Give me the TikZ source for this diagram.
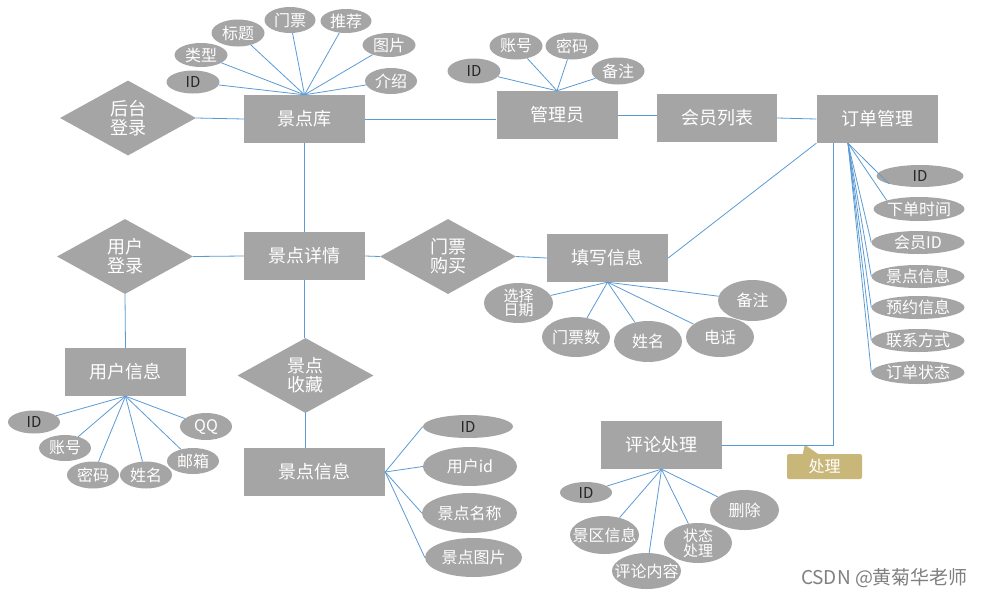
\documentclass[tikz,border=0pt]{standalone}
\usepackage{fontspec}
\setmainfont{Noto Sans CJK SC}
\usetikzlibrary{shapes.geometric}
\definecolor{boxgray}{HTML}{A5A5A5}
\definecolor{lineblue}{HTML}{5B9BD5}
\definecolor{tagtan}{HTML}{C9B77A}
\begin{document}
\begin{tikzpicture}[x=1pt,y=-1pt,
 ent/.style={rectangle, fill=boxgray, text=white, minimum width=121pt, minimum height=48pt, inner sep=0pt, font=\fontsize{18}{20}\selectfont},
 rel/.style={diamond, fill=boxgray, text=white, minimum width=136pt, minimum height=75pt, inner sep=0pt, align=center, font=\fontsize{18}{19}\selectfont},
 ell/.style 2 args={ellipse, fill=boxgray, inner sep=0pt, minimum width=#1pt, minimum height=#2pt},
 wt/.style={text=white, inner sep=0pt, font=\fontsize{16}{16}\selectfont},
 dk/.style={text=black!85, inner sep=0pt, font=\fontsize{15}{15}\selectfont},
 wt2/.style={text=white, inner sep=0pt, align=center, font=\fontsize{15}{12.5}\selectfont},
 conn/.style={draw=lineblue, line width=0.8pt}]
\useasboundingbox (0,0) rectangle (986,598);
\fill[white] (0,0) rectangle (986,598);

% ---------- entities and relations ----------
\node[ent] (jdk) at (304.5,119) {景点库};
\node[rel] (htdl) at (128,118) {后台\\登录};
\node[ent] (gly) at (557,115) {管理员};
\node[ent, minimum width=120pt] (hylb) at (717,118) {会员列表};
\node[ent] (om) at (877,119) {订单管理};
\node[rel] (yhdl) at (125,256.5) {用户\\登录};
\node[ent] (jdxq) at (304.5,256) {景点详情};
\node[rel] (mpgm) at (448,256.5) {门票\\购买};
\node[ent] (txx) at (607.5,258) {填写信息};
\node[ent] (yhxx) at (125.5,372) {用户信息};
\node[rel] (jdsc) at (305.5,375.5) {景点\\收藏};
\node[ent, minimum width=141pt] (jdxx) at (314.5,472) {景点信息};
\node[ent] (plcl) at (661.5,445) {评论处理};

% ---------- attributes: 景点库 ----------
\node[ell={53}{23}, label={[dk]center:ID}] (jid) at (193,82) {};
\node[ell={53}{24}, label={[wt]center:类型}] (jlx) at (201,55) {};
\node[ell={53}{27}, label={[wt]center:标题}] (jbt) at (238,33) {};
\node[ell={51}{26}, label={[wt]center:门票}] (jmp) at (290,20) {};
\node[ell={51}{24}, label={[wt]center:推荐}] (jtj) at (346,21) {};
\node[ell={53}{24}, label={[wt]center:图片}] (jtp) at (389,45) {};
\node[ell={52}{26}, label={[wt]center:介绍}] (jjs) at (391,81) {};

% ---------- attributes: 管理员 ----------
\node[ell={53}{25}, label={[dk]center:ID}] (gid) at (474,71) {};
\node[ell={53}{27}, label={[wt]center:账号}] (gzh) at (516,46) {};
\node[ell={53}{27}, label={[wt]center:密码}] (gmm) at (572,46) {};
\node[ell={53}{27}, label={[wt]center:备注}] (gbz) at (618,71) {};

% ---------- attributes: 订单管理 ----------
\node[ell={87}{22}, label={[dk]center:ID}] (oid) at (920,176) {};
\node[ell={91}{24}, label={[wt]center:下单时间}] (oxd) at (919,209) {};
\node[ell={93}{23}, label={[wt]center:会员ID}] (ohy) at (918,242.5) {};
\node[ell={93}{23}, label={[wt]center:景点信息}] (ojd) at (918,276.5) {};
\node[ell={93}{23}, label={[wt]center:预约信息}] (oyy) at (918,307.5) {};
\node[ell={93}{23}, label={[wt]center:联系方式}] (olx) at (918,340.5) {};
\node[ell={93}{23}, label={[wt]center:订单状态}] (ozt) at (918,372.5) {};

% ---------- attributes: 填写信息 ----------
\node[ell={69}{40}, label={[wt2]center:{选择\\日期}}] (tdate) at (518.5,303) {};
\node[ell={68}{40}, label={[wt]center:门票数}] (tnum) at (576,337) {};
\node[ell={68}{41}, label={[wt]center:姓名}] (tname) at (648,341.5) {};
\node[ell={68}{40}, label={[wt]center:电话}] (ttel) at (720,337) {};
\node[ell={69}{41}, label={[wt]center:备注}] (tbz) at (752.5,300.5) {};

% ---------- attributes: 用户信息 ----------
\node[ell={52}{23}, label={[dk]center:ID}] (uid) at (34,422) {};
\node[ell={52}{26}, label={[wt]center:账号}] (uzh) at (65,448) {};
\node[ell={52}{27}, label={[wt]center:密码}] (umm) at (93,475) {};
\node[ell={52}{27}, label={[wt]center:姓名}] (uxm) at (146,475) {};
\node[ell={52}{26}, label={[wt]center:邮箱}] (uyx) at (193,461) {};
\node[ell={52}{27}, label={[wt]center:QQ}] (uqq) at (206,426.5) {};

% ---------- attributes: 景点信息 ----------
\node[ell={90}{23}, label={[dk]center:ID}] (sid) at (468,426.5) {};
\node[ell={94}{39}, label={[wt]center:用户id}] (suid) at (470,466.5) {};
\node[ell={95}{40}, label={[wt]center:景点名称}] (smc) at (469.5,513) {};
\node[ell={97}{39}, label={[wt]center:景点图片}] (stp) at (473.5,557.5) {};

% ---------- attributes: 评论处理 ----------
\node[ell={52}{21}, label={[dk]center:ID}] (pid) at (586,492.5) {};
\node[ell={69}{38}, label={[wt]center:景区信息}] (pjq) at (604.5,535) {};
\node[ell={69}{36}, label={[wt]center:评论内容}] (pnr) at (646.5,571) {};
\node[ell={68}{40}, label={[wt2]center:{状态\\处理}}] (pzt) at (698,543) {};
\node[ell={69}{40}, label={[wt]center:删除}] (psc) at (744.5,510) {};

% ---------- callout tag ----------
\node[rectangle, rounded corners=2pt, fill=tagtan, minimum width=75pt, minimum height=25pt, inner sep=0pt, text=white, font=\fontsize{16}{16}\selectfont] (tag) at (824.5,466.5) {处理};
\fill[tagtan] ([xshift=16pt]tag.north west) -- ([xshift=18pt,yshift=9pt]tag.north west) -- ([xshift=31pt]tag.north west) -- cycle;

% ---------- watermark ----------
\node[text=black!50, inner sep=0pt, font=\fontsize{19}{19}\selectfont] (wm) at (884.5,578) {CSDN @黄菊华老师};

% ---------- connectors ----------
\foreach \e in {jid,jlx,jbt,jmp,jtj,jtp,jjs} \draw[conn] (\e) -- (jdk.north);
\foreach \e in {gid,gzh,gmm,gbz} \draw[conn] (\e) -- (gly.north);
\draw[conn] (htdl.east) -- (jdk.west);
\draw[conn] (jdk.east) -- (jdk.east -| gly.west);
\draw[conn] (gly.east) -- (gly.east -| hylb.west);
\draw[conn] (hylb.east) -- (om.west);
\draw[conn] (jdk.south) -- (jdk.south |- jdxq.north);
\draw[conn] (yhdl.east) -- (jdxq.west);
\draw[conn] (jdxq.east) -- (mpgm.west);
\draw[conn] (mpgm.east) -- (txx.west);
\draw[conn] (om.south west) -- (txx.east);
\draw[conn] (yhdl.south) -- (yhxx.north);
\draw[conn] (jdxq.south) -- (jdxq.south |- jdsc.north);
\draw[conn] (jdsc.south) -- (jdsc.south |- jdxx.north);
\foreach \e in {tdate,tnum,tname,ttel,tbz} \draw[conn] (\e) -- (txx.south);
\foreach \e in {uid,uzh,umm,uxm,uyx,uqq} \draw[conn] (\e) -- (yhxx.south);
\foreach \e in {sid,suid,smc,stp} \draw[conn] (\e.west) -- (jdxx.east);
\foreach \e in {pid,pjq,pnr,pzt,psc} \draw[conn] (\e) -- (plcl.south);
\coordinate (omf) at ([xshift=-29pt]om.south);
\coordinate (omv) at ([xshift=-44pt]om.south);
\draw[conn] (omf) -- (oid.south west);
\draw[conn] (omf) -- (oxd.north west);
\foreach \e in {ohy,ojd,oyy,olx,ozt} \draw[conn] (omf) -- (\e.west);
\draw[conn] (omv) |- (plcl.east);
\end{tikzpicture}
\end{document}
